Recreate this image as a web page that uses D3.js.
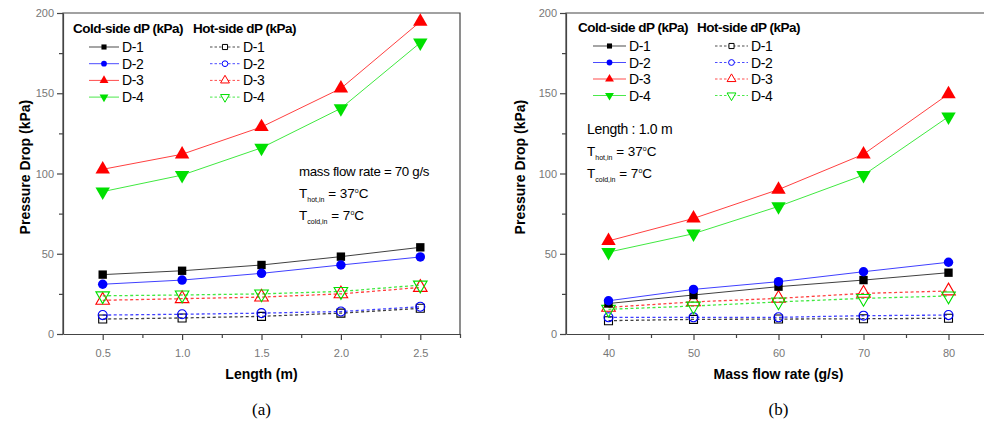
<!DOCTYPE html>
<html>
<head>
<meta charset="utf-8">
<script src="https://cdn.jsdelivr.net/npm/d3@7"></script>
<style>
  body { margin: 0; background: #fff; }
  svg { display: block; font-family: "Liberation Sans", Arial, sans-serif; }
</style>
</head>
<body>
<svg width="984" height="425"></svg>
<script>
// panel (a): pressure drop vs length
var lengths = [0.5, 1.0, 1.5, 2.0, 2.5];
var coldA = {
  "D-1": [37, 39.4, 43, 48.2, 54],
  "D-2": [31, 33.6, 37.8, 43, 48],
  "D-3": [102.6, 112, 129, 153, 194.6],
  "D-4": [88.7, 99, 116, 140.6, 181.5]
};
var hotA = {
  "D-1": [9.3, 10, 11, 13, 16],
  "D-2": [11.8, 12.3, 13, 14, 17],
  "D-3": [21, 22, 23, 25, 29],
  "D-4": [23.8, 24.3, 25, 26.5, 30.5]
};

// panel (b): pressure drop vs mass flow rate
var flows = [40, 50, 60, 70, 80];
var coldB = {
  "D-1": [19, 24.3, 29.5, 33.6, 38.2],
  "D-2": [20.7, 27.8, 32.6, 38.8, 44.7],
  "D-3": [58, 72, 90, 112, 149.5],
  "D-4": [51, 62.5, 79.5, 99, 135.4]
};
var hotB = {
  "D-1": [8.3, 9.1, 9.3, 9.5, 9.8],
  "D-2": [10.4, 10.4, 10.4, 11.4, 11.8],
  "D-3": [16.6, 20, 22.2, 25.3, 26.8],
  "D-4": [15.4, 17.4, 20, 22.2, 23.7]
};

var names = ["D-1", "D-2", "D-3", "D-4"];
var colors = {"D-1": "#000000", "D-2": "#0000ff", "D-3": "#ff0000", "D-4": "#00e000"};
var shapes = {"D-1": d3.symbolSquare, "D-2": d3.symbolCircle, "D-3": d3.symbolTriangle, "D-4": d3.symbolTriangle};
var yTicks = [0, 50, 100, 150, 200];

var svg = d3.select("svg");

function symbolPath(name, size) {
  return d3.symbol().type(shapes[name]).size(size)();
}
function symbolRot(name) {
  return name === "D-4" ? " rotate(180)" : "";
}

function panel(cfg) {
  var x = d3.scaleLinear().domain(cfg.xDomain).range(cfg.xRange);
  var y = d3.scaleLinear().domain([0, 200]).range([334, 13]);
  var g = svg.append("g");

  // frame
  var x0 = cfg.xRange[0], x1 = Math.min(cfg.xRange[1], 984);
  g.append("path")
    .attr("d", "M" + x0 + ",334V13H" + x1 + (cfg.box ? "V334" : ""))
    .attr("fill", "none").attr("stroke", "#444").attr("stroke-width", 1.2);

  // axes
  var xAxis = g.append("g").attr("transform", "translate(0,334)")
    .call(d3.axisBottom(x).tickValues(cfg.xTicks).tickFormat(cfg.fmt).tickSize(6).tickSizeOuter(0));
  g.append("g").attr("transform", "translate(0,334)")
    .call(d3.axisBottom(x).tickValues(cfg.xMinor).tickFormat("").tickSize(4).tickSizeOuter(0))
    .select(".domain").remove();
  var yAxis = g.append("g").attr("transform", "translate(" + x0 + ",0)")
    .call(d3.axisLeft(y).tickValues(yTicks).tickSize(6).tickSizeOuter(0));
  g.append("g").attr("transform", "translate(" + x0 + ",0)")
    .call(d3.axisLeft(y).tickValues([25, 75, 125, 175]).tickFormat("").tickSize(4).tickSizeOuter(0))
    .select(".domain").remove();
  g.selectAll(".domain").attr("stroke", "#444").attr("stroke-width", 1.2);
  g.selectAll(".tick line").attr("stroke", "#444").attr("stroke-width", 1.2);
  xAxis.selectAll("text").attr("fill", "#777").attr("font-size", 11).attr("dy", "1.3em");
  yAxis.selectAll("text").attr("fill", "#777").attr("font-size", 11);

  // axis titles
  g.append("text").attr("x", (x(cfg.xTicks[0]) + x(cfg.xTicks[4])) / 2).attr("y", 379)
    .attr("text-anchor", "middle").attr("font-weight", "bold").attr("font-size", 14)
    .text(cfg.xTitle);
  g.append("text")
    .attr("transform", "translate(" + cfg.yTitleX + "," + y(104) + ") rotate(-90)")
    .attr("text-anchor", "middle").attr("font-weight", "bold").attr("font-size", 14)
    .text("Pressure Drop (kPa)");
  g.append("text").attr("x", (x(cfg.xTicks[0]) + x(cfg.xTicks[4])) / 2).attr("y", 415)
    .attr("text-anchor", "middle").attr("font-family", "Liberation Serif, serif").attr("font-size", 17)
    .text(cfg.label);

  var line = d3.line().x(function(d, i) { return x(cfg.xs[i]); }).y(function(d) { return y(d); });

  // hot side first (dashed, open symbols)
  names.forEach(function(n) {
    g.append("path").datum(cfg.hot[n]).attr("d", line)
      .attr("fill", "none").attr("stroke", colors[n]).attr("stroke-width", 1.3)
      .attr("stroke-dasharray", "3,2.5").attr("opacity", 0.75);
    g.selectAll(null).data(cfg.hot[n]).enter().append("path")
      .attr("transform", function(d, i) { return "translate(" + x(cfg.xs[i]) + "," + y(d) + ")" + symbolRot(n); })
      .attr("d", symbolPath(n, n === "D-3" || n === "D-4" ? 80 : 64))
      .attr("fill", "#fff").attr("fill-opacity", 0).attr("stroke", colors[n]).attr("stroke-width", 1.1);
  });
  names.forEach(function(n) {
    g.append("path").datum(cfg.cold[n]).attr("d", line)
      .attr("fill", "none").attr("stroke", colors[n]).attr("stroke-width", 1).attr("opacity", 0.75);
    g.selectAll(null).data(cfg.cold[n]).enter().append("path")
      .attr("transform", function(d, i) { return "translate(" + x(cfg.xs[i]) + "," + y(d) + ")" + symbolRot(n); })
      .attr("d", symbolPath(n, n === "D-3" || n === "D-4" ? 90 : 70))
      .attr("fill", colors[n]);
  });

  // legend
  var L = cfg.legend;
  g.append("text").attr("x", L.cx).attr("y", L.y0 - 14).attr("font-weight", "bold").attr("font-size", 13.5)
    .attr("letter-spacing", -0.5).text("Cold-side dP (kPa)");
  g.append("text").attr("x", L.hx).attr("y", L.y0 - 14).attr("font-weight", "bold").attr("font-size", 13.5)
    .attr("letter-spacing", -0.5).text("Hot-side dP (kPa)");
  names.forEach(function(n, i) {
    var yy = L.y0 + i * L.dy;
    [[L.cx + L.off, false], [L.hx + L.hoff, true]].forEach(function(p) {
      var lx = p[0], hot = p[1];
      g.append("line").attr("x1", lx).attr("x2", lx + L.len).attr("y1", yy).attr("y2", yy)
        .attr("stroke", colors[n]).attr("stroke-width", 1).attr("opacity", 0.7)
        .attr("stroke-dasharray", hot ? "2.5,2" : null);
      g.append("path").attr("transform", "translate(" + (lx + L.len / 2) + "," + yy + ")" + symbolRot(n))
        .attr("d", symbolPath(n, n === "D-3" || n === "D-4" ? 34 : 26))
        .attr("fill", hot ? "#fff" : colors[n]).attr("stroke", hot ? colors[n] : "none");
      g.append("text").attr("x", lx + L.len + 3).attr("y", yy + 5).attr("font-size", 14)
        .attr("letter-spacing", -0.4).text(n);
    });
  });

  // annotations
  var A = cfg.note;
  g.append("text").attr("x", A.x).attr("y", A.y).attr("font-size", A.size).attr("letter-spacing", -0.3).text(A.first);
  [["hot,in", "37"], ["cold,in", "7"]].forEach(function(t, i) {
    var tx = g.append("text").attr("x", A.x).attr("y", A.y + 22 + i * 22).attr("font-size", 13.5);
    tx.append("tspan").text("T");
    tx.append("tspan").attr("font-size", 7).attr("dy", 4).text(t[0]);
    tx.append("tspan").attr("dy", -4).text(" = " + t[1]);
    tx.append("tspan").attr("font-size", 7).attr("dy", -5).text("o");
    tx.append("tspan").attr("dy", 5).text("C");
  });
}

panel({
  xs: lengths, cold: coldA, hot: hotA,
  xDomain: [0.25, 2.75], xRange: [63, 460], box: true,
  xTicks: lengths, xMinor: [0.75, 1.25, 1.75, 2.25, 2.75], fmt: d3.format(".1f"),
  xTitle: "Length (m)", yTitleX: 30, label: "(a)",
  legend: {cx: 73, hx: 193, off: 16, hoff: 17, len: 30, y0: 47, dy: 16.7},
  note: {x: 299, y: 176, size: 13.3, first: "mass flow rate = 70 g/s"}
});

panel({
  xs: flows, cold: coldB, hot: hotB,
  xDomain: [35, 85], xRange: [566, 991], box: false,
  xTicks: flows, xMinor: [45, 55, 65, 75], fmt: d3.format("d"),
  xTitle: "Mass flow rate (g/s)", yTitleX: 525, label: "(b)",
  legend: {cx: 578, hx: 697, off: 15, hoff: 18, len: 33, y0: 46, dy: 16.5},
  note: {x: 587, y: 134, size: 14, first: "Length : 1.0 m"}
});
</script>
</body>
</html>
